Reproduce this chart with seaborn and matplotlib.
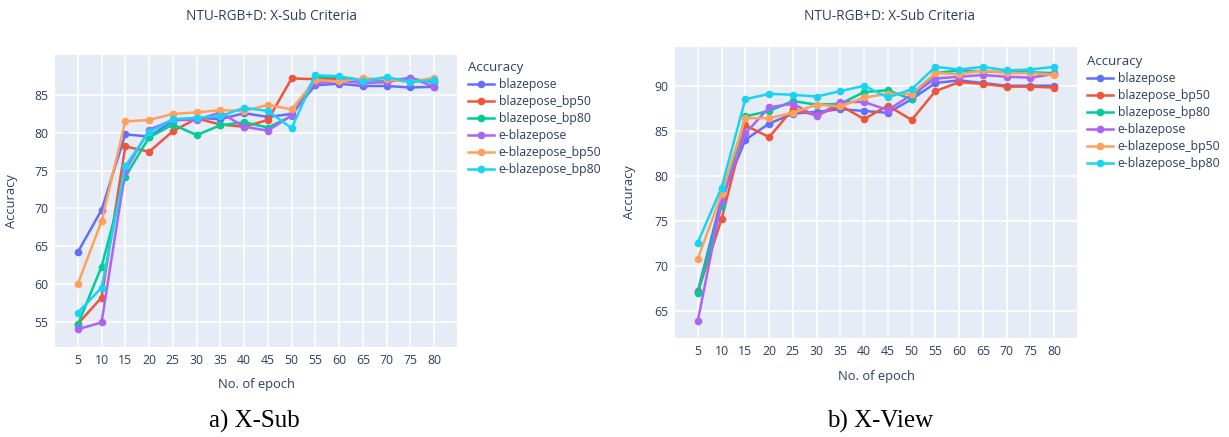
import matplotlib
matplotlib.use("Agg")
import matplotlib.pyplot as plt
import pandas as pd
import seaborn as sns

epochs = [5, 10, 15, 20, 25, 30, 35, 40, 45, 50, 55, 60, 65, 70, 75, 80]
models = ["blazepose", "blazepose_bp50", "blazepose_bp80",
          "e-blazepose", "e-blazepose_bp50", "e-blazepose_bp80"]
colors = ["#636EFA", "#EF553B", "#00CC96", "#AB63FA", "#FFA15A", "#19D3F3"]

# X-Sub accuracy per model
xsub_blazepose = [64.2, 69.8, 79.8, 79.5, 81.6, 82.0, 81.8, 82.6, 82.1, 82.5, 86.3, 86.5, 86.2, 86.2, 86.0, 86.1]
xsub_bp50 = [54.7, 58.2, 78.2, 77.5, 80.2, 81.9, 81.1, 80.8, 81.7, 87.2, 87.1, 87.1, 87.0, 87.0, 87.0, 86.8]
xsub_bp80 = [54.6, 62.3, 74.2, 79.4, 81.1, 79.7, 81.0, 81.4, 80.7, 82.2, 87.4, 87.4, 87.0, 87.0, 87.2, 86.7]
xsub_e = [54.0, 54.9, 75.0, 80.4, 81.7, 81.7, 82.7, 80.8, 80.3, 82.3, 86.6, 86.9, 86.6, 86.7, 87.3, 86.1]
xsub_e_bp50 = [60.0, 68.3, 81.5, 81.7, 82.5, 82.7, 83.0, 82.9, 83.7, 83.1, 87.0, 86.8, 87.2, 87.1, 86.7, 87.3]
xsub_e_bp80 = [56.2, 59.5, 75.6, 80.1, 81.8, 82.0, 82.2, 83.3, 82.9, 80.6, 87.6, 87.5, 86.8, 87.4, 86.7, 87.0]

# X-View accuracy per model
xview_blazepose = [67.2, 77.5, 84.0, 85.8, 86.9, 87.1, 87.4, 87.2, 87.0, 88.5, 90.3, 90.6, 90.3, 90.0, 90.0, 90.0]
xview_bp50 = [67.1, 75.2, 85.6, 84.3, 87.4, 86.7, 87.8, 86.3, 87.8, 86.2, 89.4, 90.4, 90.2, 89.9, 89.9, 89.8]
xview_bp80 = [67.0, 76.7, 86.6, 87.2, 88.3, 87.9, 88.0, 89.3, 89.5, 88.5, 91.4, 91.7, 91.6, 91.5, 91.5, 91.4]
xview_e = [63.9, 77.2, 84.7, 87.6, 88.0, 86.6, 88.2, 88.2, 87.3, 89.0, 90.8, 91.0, 91.2, 91.0, 90.9, 91.3]
xview_e_bp50 = [70.8, 78.0, 86.4, 86.4, 87.0, 87.9, 87.7, 88.7, 89.1, 89.1, 91.4, 91.3, 91.7, 91.4, 91.4, 91.2]
xview_e_bp80 = [72.6, 78.7, 88.5, 89.1, 89.0, 88.8, 89.4, 90.0, 88.7, 89.6, 92.1, 91.8, 92.1, 91.7, 91.8, 92.1]

xsub = [xsub_blazepose, xsub_bp50, xsub_bp80, xsub_e, xsub_e_bp50, xsub_e_bp80]
xview = [xview_blazepose, xview_bp50, xview_bp80, xview_e, xview_e_bp50, xview_e_bp80]


def to_long(series):
    rows = []
    for name, vals in zip(models, series):
        for e, v in zip(epochs, vals):
            rows.append({"epoch": e, "acc": v, "model": name})
    return pd.DataFrame(rows)


TEXT = "#2a3f5f"
plt.rcParams["font.family"] = ["Open Sans", "DejaVu Sans"]

fig = plt.figure(figsize=(12.29, 4.37), dpi=100)
ax1 = fig.add_axes([55 / 1229, 1 - 347 / 437, 402 / 1229, 292 / 437])
ax2 = fig.add_axes([675 / 1229, 1 - 338 / 437, 402 / 1229, 291 / 437])

setups = [
    (ax1, xsub, (51.65, 90.3), [55, 60, 65, 70, 75, 80, 85], (468, 61)),
    (ax2, xview, (62.0, 94.3), [65, 70, 75, 80, 85, 90], (1087, 55)),
]

for ax, series, ylim, yticks, legpos in setups:
    df = to_long(series)
    sns.lineplot(data=df, x="epoch", y="acc", hue="model", hue_order=models,
                 palette=colors, marker="o", markersize=5.5, markeredgewidth=0,
                 linewidth=1.8, ax=ax)
    ax.set_facecolor("#E5ECF6")
    for s in ax.spines.values():
        s.set_visible(False)
    ax.set_xlim(0.2, 84.8)
    ax.set_ylim(*ylim)
    ax.set_xticks(epochs)
    ax.set_yticks(yticks)
    ax.grid(color="white", linewidth=1.1)
    ax.set_axisbelow(True)
    ax.tick_params(length=0, labelsize=8.8, colors=TEXT, pad=5)
    ax.set_xlabel("No. of epoch", fontsize=9.3, color=TEXT)
    ax.set_ylabel("Accuracy", fontsize=9.3, color=TEXT)
    leg = ax.legend(title="Accuracy", loc="upper left",
                    bbox_to_anchor=(legpos[0] / 1229, 1 - legpos[1] / 437),
                    bbox_transform=fig.transFigure, frameon=False,
                    fontsize=8.8, title_fontsize=9.5, borderaxespad=0,
                    borderpad=0, handlelength=2.1, handletextpad=0.4,
                    labelspacing=0.33)
    leg._legend_box.align = "left"
    for t in leg.get_texts():
        t.set_color(TEXT)
    leg.get_title().set_color(TEXT)

ax1.yaxis.set_label_coords(-0.092, 0.5)
ax1.xaxis.set_label_coords(0.5, -0.106)
ax2.yaxis.set_label_coords(-0.097, 0.5)
ax2.xaxis.set_label_coords(0.5, -0.11)

fig.text(272 / 1229, 1 - 17 / 437, "NTU-RGB+D: X-Sub Criteria", ha="center",
         va="center", fontsize=9.8, color=TEXT)
fig.text(889 / 1229, 1 - 17 / 437, "NTU-RGB+D: X-Sub Criteria", ha="center",
         va="center", fontsize=9.8, color=TEXT)

fig.text(254 / 1229, 1 - 421 / 437, "a) X-Sub", ha="center", va="center",
         fontsize=18, family=["Liberation Serif", "DejaVu Serif"], color="black")
fig.text(880 / 1229, 1 - 421 / 437, "b) X-View", ha="center", va="center",
         fontsize=18, family=["Liberation Serif", "DejaVu Serif"], color="black")

fig.savefig("out.png", dpi=100, facecolor="white")
